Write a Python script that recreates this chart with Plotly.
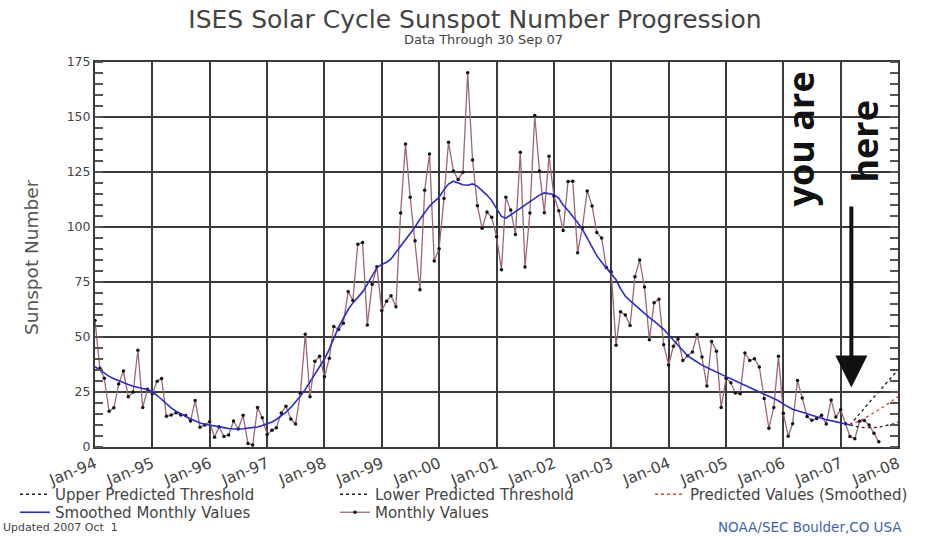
import pandas as pd
import plotly.graph_objects as go

# ---------------- data ----------------
monthly_start = "1994-01-01"
monthly_values = [
    57.5, 35.8, 31.2, 16.2, 17.8, 28.6, 34.6, 22.8, 25.0, 44.0, 18.0, 26.2,   # 1994
    24.2, 29.9, 31.1, 14.0, 14.5, 15.6, 14.5, 14.3, 11.8, 21.1, 9.0, 10.0,    # 1995
    11.5, 4.4, 9.2, 4.8, 5.5, 11.8, 8.2, 14.4, 1.6, 0.9, 17.9, 13.3,          # 1996
    5.7, 7.6, 8.7, 15.5, 18.5, 12.7, 10.4, 24.4, 51.3, 22.8, 39.0, 41.2,      # 1997
    31.9, 40.3, 54.8, 53.4, 56.3, 70.7, 66.6, 92.2, 92.9, 55.5, 74.0, 81.9,   # 1998
    62.0, 66.3, 68.8, 63.7, 106.4, 137.7, 113.5, 93.7, 71.5, 116.7, 133.2, 84.6,  # 1999
    90.1, 112.9, 138.5, 125.5, 121.6, 124.9, 170.1, 130.5, 109.7, 99.4, 106.8, 104.4,  # 2000
    95.6, 80.6, 113.5, 107.7, 96.6, 134.0, 81.8, 106.4, 150.7, 125.5, 106.5, 132.2,  # 2001
    114.1, 107.4, 98.4, 120.7, 120.8, 88.3, 99.6, 116.4, 109.6, 97.5, 95.0, 81.6,  # 2002
    79.5, 46.2, 61.5, 60.0, 55.2, 77.4, 85.0, 72.7, 48.8, 65.6, 67.2, 46.5,   # 2003
    37.3, 45.8, 49.1, 39.3, 41.5, 43.2, 51.1, 40.9, 27.7, 48.0, 43.5, 17.9,   # 2004
    31.3, 29.2, 24.5, 24.2, 42.7, 39.3, 40.1, 36.4, 22.1, 8.5, 18.0, 41.2,    # 2005
    15.3, 4.9, 10.6, 30.2, 22.3, 13.9, 12.2, 12.9, 14.4, 10.5, 21.4, 13.6,    # 2006
    16.9, 10.6, 4.8, 3.7, 11.7, 12.0, 10.0, 6.2, 2.4,                        # 2007
]

smoothed_values = [
    36.5, 35.0, 33.5, 32.1, 31.0, 30.0, 29.2, 28.4, 27.6, 27.0, 26.6, 26.2,   # 1994
    25.0, 23.4, 21.5, 19.6, 17.8, 16.3, 15.0, 14.0, 12.8, 11.8, 10.9, 10.3,   # 1995
    10.0, 9.6, 9.2, 8.8, 8.4, 8.1, 8.1, 8.3, 8.5, 8.7, 9.1, 9.8,              # 1996
    10.5, 11.4, 12.5, 14.0, 15.8, 18.0, 20.5, 23.2, 26.2, 29.5, 33.0, 36.5,   # 1997
    40.0, 44.5, 49.5, 54.5, 58.5, 62.5, 65.5, 68.0, 70.5, 74.0, 78.0, 81.5,   # 1998
    83.0, 84.0, 85.5, 88.5, 91.5, 94.0, 97.0, 100.0, 103.5, 106.5, 109.5, 111.5,  # 1999
    113.5, 117.0, 119.5, 120.8, 120.0, 119.2, 119.0, 119.6, 118.5, 116.5, 114.5, 112.0,  # 2000
    108.5, 104.8, 104.0, 105.5, 107.3, 108.6, 110.0, 111.6, 113.0, 114.5, 115.5, 115.2,  # 2001
    114.8, 113.0, 110.0, 107.5, 105.0, 102.0, 99.0, 95.0, 91.0, 87.0, 84.0, 81.5,  # 2002
    79.0, 76.0, 72.0, 68.5, 66.5, 64.5, 62.5, 60.5, 58.8, 57.2, 55.5, 53.5,   # 2003
    51.0, 48.5, 46.0, 43.5, 41.5, 40.0, 38.5, 37.2, 36.1, 35.0, 34.0, 33.0,   # 2004
    32.0, 31.0, 30.0, 29.0, 28.0, 27.0, 26.0, 25.0, 24.0, 23.0, 22.3, 21.0,   # 2005
    19.5, 18.2, 17.2, 16.5, 15.8, 15.0, 14.4, 13.8, 13.0, 12.4, 12.0, 11.5,   # 2006
    11.0, 10.5, 10.0,                                                       # 2007
]

predicted_start = "2007-03-01"
upper_threshold = [10.0, 12.4, 15.1, 17.6, 20.2, 22.5, 25.1, 27.6, 30.0, 32.6, 35.0]
predicted_smoothed = [10.0, 10.8, 11.9, 13.0, 14.2, 15.5, 16.9, 18.3, 19.8, 21.3, 22.9]
lower_threshold = [10.0, 9.4, 9.0, 8.8, 8.7, 8.8, 9.0, 9.4, 9.9, 10.5, 11.2]

year_ticks = [f"{y}-01-01" for y in range(1994, 2009)]
y_ticks = [0, 25, 50, 75, 100, 125, 150, 175]

monthly_dates = pd.date_range(monthly_start, periods=len(monthly_values), freq="MS")
smoothed_dates = pd.date_range(monthly_start, periods=len(smoothed_values), freq="MS")
pred_dates = pd.date_range(predicted_start, periods=len(upper_threshold), freq="MS")

FONT = "DejaVu Sans"
GRID = "#3a3a3a"
TXT = "#444444"

fig = go.Figure()

fig.add_trace(go.Scatter(
    x=monthly_dates, y=monthly_values, name="Monthly Values",
    mode="lines+markers",
    line=dict(color="#9a6878", width=1.3),
    marker=dict(color="#111111", size=3.5, symbol="circle"),
    legend="legend5",
))
fig.add_trace(go.Scatter(
    x=smoothed_dates, y=smoothed_values, name="Smoothed Monthly Values",
    mode="lines", line=dict(color="#2b2bd0", width=1.6),
    legend="legend4",
))
fig.add_trace(go.Scatter(
    x=pred_dates, y=upper_threshold, name="Upper Predicted Threshold",
    mode="lines", line=dict(color="#222222", width=1.3, dash="dot"),
    legend="legend",
))
fig.add_trace(go.Scatter(
    x=pred_dates, y=lower_threshold, name="Lower Predicted Threshold",
    mode="lines", line=dict(color="#222222", width=1.3, dash="dot"),
    legend="legend2",
))
fig.add_trace(go.Scatter(
    x=pred_dates, y=predicted_smoothed, name="Predicted Values (Smoothed)",
    mode="lines", line=dict(color="#d04040", width=1.3, dash="dot"),
    legend="legend3",
))

legend_common = dict(
    orientation="v", xref="container", yref="container",
    xanchor="left", yanchor="top",
    font=dict(family=FONT, size=15, color=TXT), bgcolor="rgba(0,0,0,0)",
    tracegroupgap=0, itemwidth=30,
)
row1_top = 1 - 478 / 537
row2_top = 1 - 496 / 537
fig.update_layout(
    legend=dict(x=15 / 940, y=row1_top, **legend_common),
    legend2=dict(x=335 / 940, y=row1_top, **legend_common),
    legend3=dict(x=650 / 940, y=row1_top, **legend_common),
    legend4=dict(x=15 / 940, y=row2_top, **legend_common),
    legend5=dict(x=335 / 940, y=row2_top, **legend_common),
)

fig.update_xaxes(
    type="date", range=["1994-01-01", "2008-01-01"],
    tickmode="array", tickvals=year_ticks, tickformat="Jan-%y",
    tickangle=-22, ticks="", ticklen=0, showgrid=True, gridcolor=GRID, gridwidth=2,
    showline=True, linecolor=GRID, linewidth=2, mirror=True,
    tickfont=dict(family=FONT, size=15.5, color=TXT), zeroline=False,
    automargin=False,
)
fig.update_yaxes(
    range=[0, 175], tickmode="array", tickvals=y_ticks,
    ticks="", ticklen=0, showgrid=True, gridcolor=GRID, gridwidth=2,
    showline=True, linecolor=GRID, linewidth=2, mirror="ticks",
    minor=dict(dtick=5, ticks="inside", ticklen=8, tickcolor="#555555",
               tickwidth=1.5, showgrid=False),
    tickfont=dict(family=FONT, size=12.5, color=TXT), zeroline=False,
    automargin=False,
)

fig.update_layout(
    width=940, height=537,
    margin=dict(l=95, r=42, t=62, b=90, autoexpand=False),
    paper_bgcolor="white", plot_bgcolor="white",
    showlegend=True,
    title=dict(text="ISES Solar Cycle Sunspot Number Progression",
               x=475 / 940, xanchor="center", y=1 - 19 / 537, yanchor="middle",
               font=dict(family=FONT, size=25, color=TXT)),
)

def px(xp):
    return (xp - 95) / 803

def py(yp):
    return (447 - yp) / 385

annotations = [
    dict(text="Data Through 30 Sep 07", x=px(483), y=py(40), xref="paper", yref="paper",
         xanchor="center", yanchor="middle",
         showarrow=False, font=dict(family=FONT, size=13, color=TXT)),
    dict(text="Sunspot Number", x=px(31), y=py(257), xref="paper", yref="paper",
         xanchor="center", yanchor="middle",
         textangle=-90, showarrow=False, font=dict(family=FONT, size=18.5, color="#555555")),
    dict(text="Updated 2007 Oct  1", x=px(1), y=py(527), xref="paper", yref="paper",
         xanchor="left", yanchor="middle",
         showarrow=False, font=dict(family=FONT, size=11, color=TXT)),
    dict(text="NOAA/SEC Boulder,CO USA", x=px(904), y=py(527), xref="paper", yref="paper",
         xanchor="right", yanchor="middle",
         showarrow=False, font=dict(family=FONT, size=13.5, color="#3f5fb5")),
    dict(text="<b>you are</b>", x="2006-04-20", y=140, xref="x", yref="y",
         xanchor="center", yanchor="middle",
         textangle=-90, showarrow=False,
         font=dict(family="Open Sans", size=36, color="#111111")),
    dict(text="<b>here</b>", x="2007-06-01", y=139, xref="x", yref="y",
         xanchor="center", yanchor="middle",
         textangle=-90, showarrow=False,
         font=dict(family="Open Sans", size=36, color="#111111")),
    dict(text="", x="2007-03-10", y=27, xref="x", yref="y",
         ax="2007-03-10", ay=110, axref="x", ayref="y",
         showarrow=True, arrowhead=2, arrowsize=1.6, arrowwidth=4, arrowcolor="#111111"),
]
fig.update_layout(annotations=annotations)

fig.write_html("out.html", config={"displayModeBar": False},
               post_script="document.body.style.margin='0px';")
